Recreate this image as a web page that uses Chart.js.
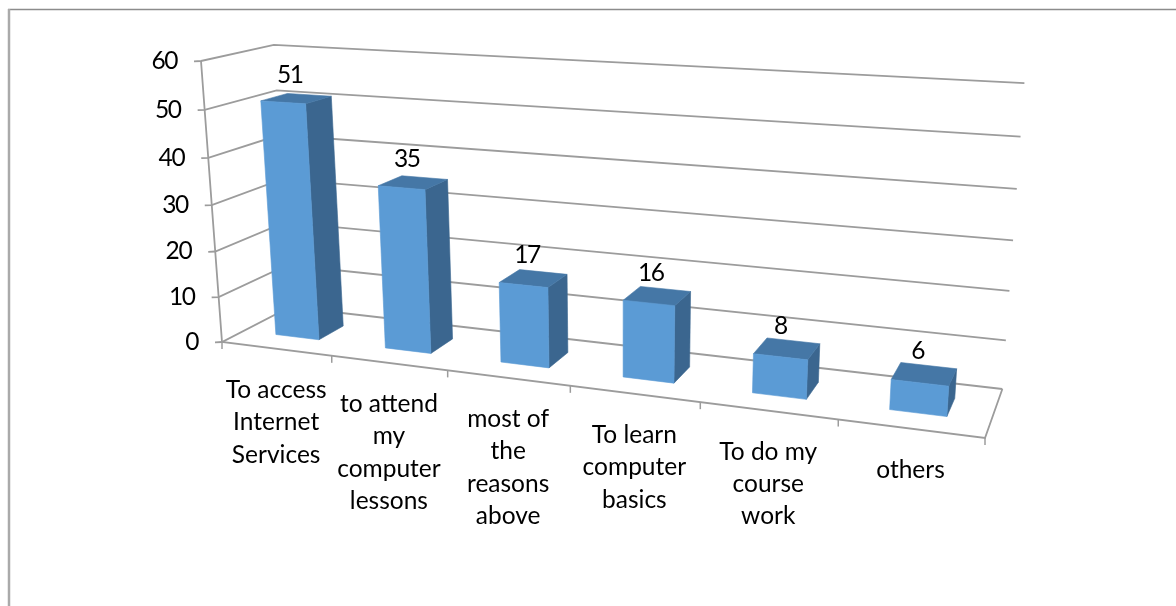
<!DOCTYPE html>
<html>
<head>
<meta charset="utf-8">
<style>
  html, body { margin: 0; padding: 0; background: #fff; }
  canvas { display: block; }
</style>
<script src="https://cdn.jsdelivr.net/npm/chart.js@4/dist/chart.umd.min.js"></script>
</head>
<body>
<canvas id="myChart" width="1176" height="606"></canvas>
<script>
const categories = [
    ["To access", "Internet", "Services"],
    ["to attend", "my", "computer", "lessons"],
    ["most of", "the", "reasons", "above"],
    ["To learn", "computer", "basics"],
    ["To do my", "course", "work"],
    ["others"]
];
const responses = [51, 35, 17, 16, 8, 6];
const yTickMax = 60;
const yTickStep = 10;

/* the box as it appears in the picture: origin, and the far end of each axis with its perspective weight */
const origin = [222, 342];
const axisU = { end: [985, 438], weight: 0.84 };
const axisV = { end: [201, 61], weight: 0.95 };
const axisW = { end: [290, 307], weight: 1.075 };
const barDepth = [0.31, 0.69];
const labelFont = '24.5px Lato';
const numberSpacing = '-1.4px';
const gridColor = '#9c9c9c';

function project(u, v, w) {
    let d = 1 + u * (axisU.weight - 1) + v * (axisV.weight - 1) + w * (axisW.weight - 1);
    let out = [0, 1].map(function (i) {
        return (origin[i]
            + u * (axisU.weight * axisU.end[i] - origin[i])
            + v * (axisV.weight * axisV.end[i] - origin[i])
            + w * (axisW.weight * axisW.end[i] - origin[i])) / d;
    });
    return out;
}

function line(ctx, points, color, width) {
    ctx.beginPath();
    points.forEach(function (p, i) { i ? ctx.lineTo(p[0], p[1]) : ctx.moveTo(p[0], p[1]); });
    ctx.strokeStyle = color;
    ctx.lineWidth = width;
    ctx.stroke();
}

function face(ctx, points, color) {
    ctx.beginPath();
    points.forEach(function (p, i) { i ? ctx.lineTo(p[0], p[1]) : ctx.moveTo(p[0], p[1]); });
    ctx.closePath();
    ctx.fillStyle = color;
    ctx.strokeStyle = color;
    ctx.lineWidth = 0.6;
    ctx.fill();
    ctx.stroke();
}

/* chart.js lays out the flat chart, this plugin puts it in the box */
const box3d = {
    id: 'box3d',
    beforeDatasetsDraw: function () { return false; },
    afterDraw: function (chart) {
        let ctx = chart.ctx;
        let area = chart.chartArea;
        let xs = chart.scales.x;
        let ys = chart.scales.y;
        let toU = function (px) { return (px - area.left) / area.width; };
        let toV = function (py) { return (area.bottom - py) / area.height; };
        let step = xs.getPixelForTick(1) - xs.getPixelForTick(0);

        ctx.save();

        // frame of the embedded picture
        line(ctx, [[8, 9.5], [1176, 9.5]], '#8c8c8c', 1.5);
        line(ctx, [[9, 9], [9, 606]], '#aaaaaa', 2.5);

        // gridlines on the two walls, ticks and value axis labels
        ctx.font = labelFont;
        ctx.fillStyle = '#000';
        ctx.textAlign = 'right';
        ctx.textBaseline = 'middle';
        ctx.letterSpacing = numberSpacing;
        ys.ticks.forEach(function (tick) {
            let v = toV(ys.getPixelForValue(tick.value));
            let a = project(0, v, 0);
            line(ctx, [[a[0] - 7, a[1] + 0.3], a, project(0, v, 1), project(1, v, 1)], gridColor, 1.8);
            ctx.fillStyle = '#000';
            ctx.fillText(tick.label, a[0] - 24, a[1]);
        });

        // floor
        line(ctx, [project(0, 1, 0), project(0, 0, 0), project(1, 0, 0), project(1, 0, 1)], gridColor, 1.8);
        let boundaries = categories.map(function (c, i) { return toU(xs.getPixelForTick(i) + step / 2); });
        [0].concat(boundaries).forEach(function (u) {
            let a = project(u, 0, 0);
            line(ctx, [a, [a[0], a[1] + 7]], gridColor, 1.5);
        });

        // category labels
        ctx.textAlign = 'center';
        ctx.fillStyle = '#000';
        ctx.letterSpacing = '0px';
        categories.forEach(function (lines, i) {
            let a = project(toU(xs.getPixelForTick(i)), 0, 0);
            lines.forEach(function (text, n) {
                ctx.fillText(text, a[0], a[1] + 41 + n * 32.4);
            });
        });

        // bars
        let bars = chart.getDatasetMeta(0).data;
        ctx.letterSpacing = numberSpacing;
        bars.forEach(function (bar, i) {
            let props = bar.getProps(['x', 'y', 'base', 'width'], true);
            let u0 = toU(props.x - props.width / 2);
            let u1 = toU(props.x + props.width / 2);
            let v0 = toV(props.base);
            let v1 = toV(props.y);
            let w0 = barDepth[0];
            let w1 = barDepth[1];
            face(ctx, [project(u1, v0, w0), project(u1, v0, w1), project(u1, v1, w1), project(u1, v1, w0)], '#3b668f');
            face(ctx, [project(u0, v1, w0), project(u1, v1, w0), project(u1, v1, w1), project(u0, v1, w1)], '#4577a6');
            face(ctx, [project(u0, v0, w0), project(u1, v0, w0), project(u1, v1, w0), project(u0, v1, w0)], '#5b9bd5');
            let top = project((u0 + u1) / 2, v1, (w0 + w1) / 2);
            ctx.fillStyle = '#000';
            ctx.fillText(String(responses[i]), top[0] - 6.5, top[1] - 23);
        });

        ctx.restore();
    }
};

function renderChart() {
    let ctx = document.getElementById("myChart");
    return new Chart(ctx, {
        type: 'bar',
        data: {
            labels: categories,
            datasets: [{
                data: responses,
                backgroundColor: '#5b9bd5',
                categoryPercentage: 1,
                barPercentage: 0.4
            }]
        },
        options: {
            responsive: false,
            animation: false,
            plugins: { legend: { display: false }, tooltip: { enabled: false } },
            layout: { padding: 0 },
            scales: {
                x: { display: false },
                y: { display: false, min: 0, max: yTickMax, ticks: { stepSize: yTickStep } }
            }
        },
        plugins: [box3d]
    });
}

renderChart();
</script>
</body>
</html>
